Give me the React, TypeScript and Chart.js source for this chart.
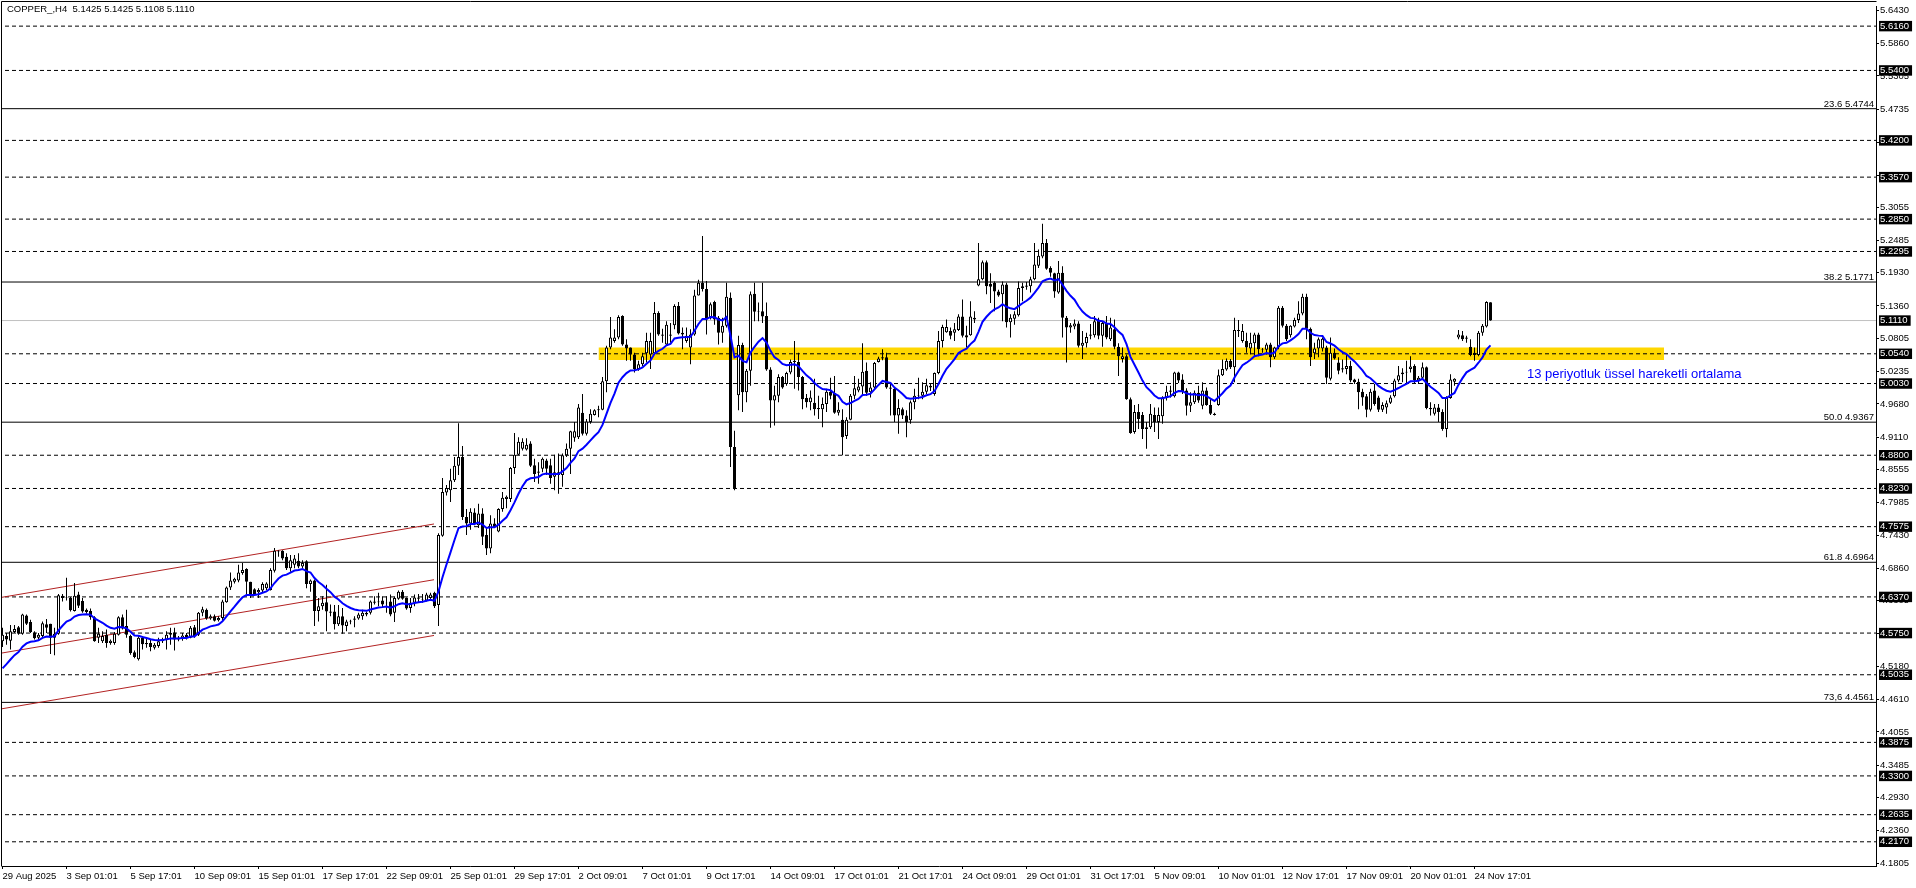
import { useEffect, useRef } from "react";
import { Chart, registerables } from "chart.js";

Chart.register(...registerables);

// ---------- DATA (COPPER_, H4) ----------
const SYMBOL = "COPPER_,H4";

const X_TICK_POS = [0, 16, 32, 48, 64, 80, 96, 112, 128, 144, 160, 176, 192, 208, 224, 240, 256, 272, 288, 304, 320, 336, 352, 368];
const X_TICK_LABELS = [
  "29 Aug 2025", "3 Sep 01:01", "5 Sep 17:01", "10 Sep 09:01", "15 Sep 01:01", "17 Sep 17:01",
  "22 Sep 09:01", "25 Sep 01:01", "29 Sep 17:01", "2 Oct 09:01", "7 Oct 01:01", "9 Oct 17:01",
  "14 Oct 09:01", "17 Oct 01:01", "21 Oct 17:01", "24 Oct 09:01", "29 Oct 01:01", "31 Oct 17:01",
  "5 Nov 09:01", "10 Nov 01:01", "12 Nov 17:01", "17 Nov 09:01", "20 Nov 01:01", "24 Nov 17:01",
];

const Y_TICKS = [
  5.643, 5.586, 5.5305, 5.4735, 5.4165, 5.36, 5.3055, 5.2485, 5.193, 5.136, 5.0805, 5.0235, 4.968,
  4.911, 4.8555, 4.7985, 4.743, 4.686, 4.6305, 4.575, 4.518, 4.461, 4.4055, 4.3485, 4.293, 4.236, 4.1805,
];

const DASHED_LEVELS = [
  5.616, 5.54, 5.42, 5.357, 5.285, 5.2295, 5.054, 5.003, 4.88, 4.823, 4.7575, 4.637, 4.575, 4.5035,
  4.3875, 4.33, 4.2635, 4.217,
];
const FIB_LEVELS = [5.4744, 5.1771, 4.9367, 4.6964, 4.4561];
const FIB_LABELS = ["23.6 5.4744", "38.2 5.1771", "50.0 4.9367", "61.8 4.6964", "73,6 4.4561"];
const LAST_PRICE = 5.111;

const BAND_X = [149, 415.4];
const BAND_TOP = 5.0647;
const BAND_BOTTOM = 5.0432;

const CHANNEL_X = [-0.625, 107.875];
const CHANNEL_TOP = [4.6358, 4.7621];
const CHANNEL_MID = [4.5402, 4.6665];
const CHANNEL_BOT = [4.4446, 4.5709];

const MA_PERIOD = 13;
const MA_SEED = 4.505;
const MA_LABEL = "13 periyotluk üssel hareketli ortalama";
const MA_LABEL_X = 381.1;
const MA_LABEL_Y = 5.0191;

const OPEN = [
  4.561, 4.570, 4.562, 4.577, 4.585, 4.574, 4.605, 4.594, 4.576, 4.567,
  4.570, 4.590, 4.591, 4.567, 4.574, 4.639, 4.636, 4.635, 4.613, 4.641,
  4.630, 4.615, 4.613, 4.602, 4.567, 4.561, 4.572, 4.558, 4.558, 4.572,
  4.602, 4.587, 4.570, 4.542, 4.530, 4.567, 4.558, 4.558, 4.550, 4.553,
  4.561, 4.564, 4.572, 4.576, 4.564, 4.566, 4.572, 4.567, 4.585, 4.572,
  4.610, 4.615, 4.600, 4.604, 4.597, 4.601, 4.628, 4.653, 4.663, 4.665,
  4.678, 4.685, 4.663, 4.650, 4.645, 4.648, 4.652, 4.649, 4.682, 4.716,
  4.716, 4.706, 4.686, 4.692, 4.699, 4.689, 4.698, 4.659, 4.665, 4.613,
  4.621, 4.628, 4.612, 4.612, 4.590, 4.604, 4.587, 4.595, 4.598, 4.600,
  4.604, 4.607, 4.610, 4.629, 4.628, 4.631, 4.626, 4.629, 4.610, 4.634,
  4.646, 4.635, 4.618, 4.627, 4.634, 4.632, 4.631, 4.635, 4.644, 4.623,
  4.742, 4.816, 4.820, 4.837, 4.862, 4.877, 4.774, 4.763, 4.782, 4.760,
  4.780, 4.743, 4.720, 4.763, 4.749, 4.788, 4.805, 4.805, 4.858, 4.881,
  4.891, 4.890, 4.900, 4.863, 4.852, 4.857, 4.871, 4.863, 4.843, 4.851,
  4.846, 4.880, 4.891, 4.910, 4.911, 4.953, 4.917, 4.937, 4.949, 4.957,
  4.958, 5.007, 5.065, 5.076, 5.082, 5.119, 5.070, 5.065, 5.053, 5.028,
  5.036, 5.055, 5.053, 5.055, 5.124, 5.087, 5.070, 5.087, 5.103, 5.136,
  5.090, 5.076, 5.065, 5.087, 5.154, 5.176, 5.165, 5.116, 5.143, 5.116,
  5.090, 5.102, 5.150, 4.894, 4.983, 5.069, 4.988, 5.025, 5.157, 5.126,
  5.127, 5.119, 5.027, 4.974, 4.982, 5.014, 5.002, 5.022, 5.042, 5.040,
  5.014, 4.978, 4.971, 4.970, 4.959, 4.959, 4.968, 4.989, 4.987, 4.953,
  4.941, 4.913, 4.941, 4.982, 4.991, 4.998, 5.025, 4.988, 4.996, 5.040,
  5.046, 5.048, 4.996, 4.994, 4.948, 4.959, 4.948, 4.940, 4.971, 4.982,
  4.982, 4.989, 4.999, 4.985, 5.021, 5.076, 5.091, 5.093, 5.090, 5.095,
  5.118, 5.086, 5.086, 5.116, 5.171, 5.182, 5.211, 5.174, 5.176, 5.161,
  5.156, 5.173, 5.108, 5.114, 5.120, 5.167, 5.169, 5.170, 5.182, 5.205,
  5.221, 5.244, 5.201, 5.192, 5.159, 5.193, 5.116, 5.099, 5.101, 5.106,
  5.068, 5.072, 5.085, 5.086, 5.113, 5.085, 5.106, 5.079, 5.096, 5.066,
  5.045, 5.050, 4.976, 4.920, 4.954, 4.949, 4.925, 4.928, 4.949, 4.937,
  4.947, 4.979, 4.989, 4.981, 5.022, 5.010, 4.991, 4.965, 4.971, 4.987,
  4.965, 4.991, 4.966, 4.951, 4.966, 5.017, 5.027, 5.042, 5.031, 5.095,
  5.076, 5.076, 5.063, 5.072, 5.087, 5.062, 5.061, 5.070, 5.048, 5.065,
  5.133, 5.102, 5.086, 5.101, 5.112, 5.123, 5.152, 5.097, 5.055, 5.063,
  5.063, 5.065, 5.011, 5.056, 5.039, 5.029, 5.028, 5.033, 5.010, 5.006,
  4.989, 4.981, 4.958, 4.991, 4.979, 4.958, 4.962, 4.970, 4.981, 5.008,
  5.019, 5.022, 5.028, 5.033, 5.008, 5.013, 5.031, 4.961, 4.951, 4.962,
  4.954, 4.925, 4.978, 5.006, 5.082, 5.086, 5.080, 5.066, 5.056, 5.052,
  5.090, 5.101, 5.1425,
];

const HIGH = [
  4.584, 4.575, 4.589, 4.589, 4.587, 4.608, 4.607, 4.598, 4.578, 4.575,
  4.595, 4.599, 4.591, 4.584, 4.642, 4.642, 4.670, 4.637, 4.661, 4.646,
  4.635, 4.617, 4.617, 4.604, 4.584, 4.578, 4.581, 4.564, 4.577, 4.604,
  4.607, 4.615, 4.572, 4.545, 4.570, 4.570, 4.567, 4.564, 4.558, 4.567,
  4.567, 4.578, 4.584, 4.584, 4.570, 4.575, 4.575, 4.587, 4.589, 4.611,
  4.620, 4.617, 4.607, 4.607, 4.604, 4.632, 4.655, 4.679, 4.670, 4.692,
  4.695, 4.686, 4.663, 4.652, 4.652, 4.662, 4.662, 4.686, 4.721, 4.717,
  4.717, 4.712, 4.709, 4.709, 4.712, 4.700, 4.700, 4.667, 4.667, 4.635,
  4.638, 4.658, 4.624, 4.623, 4.623, 4.618, 4.598, 4.598, 4.604, 4.610,
  4.615, 4.612, 4.631, 4.638, 4.644, 4.638, 4.638, 4.641, 4.638, 4.648,
  4.649, 4.636, 4.635, 4.641, 4.642, 4.642, 4.644, 4.644, 4.646, 4.746,
  4.841, 4.829, 4.857, 4.877, 4.935, 4.896, 4.788, 4.789, 4.789, 4.797,
  4.789, 4.755, 4.777, 4.772, 4.789, 4.817, 4.811, 4.860, 4.918, 4.911,
  4.909, 4.909, 4.904, 4.874, 4.868, 4.876, 4.874, 4.874, 4.881, 4.883,
  4.883, 4.900, 4.922, 4.937, 4.968, 4.985, 4.942, 4.959, 4.959, 4.965,
  5.014, 5.068, 5.117, 5.096, 5.120, 5.120, 5.079, 5.065, 5.056, 5.042,
  5.056, 5.090, 5.090, 5.143, 5.127, 5.097, 5.110, 5.107, 5.139, 5.143,
  5.099, 5.099, 5.096, 5.164, 5.181, 5.256, 5.179, 5.142, 5.145, 5.119,
  5.116, 5.176, 5.159, 4.922, 5.085, 5.073, 5.028, 5.161, 5.176, 5.142,
  5.176, 5.142, 5.031, 4.999, 5.019, 5.016, 5.023, 5.044, 5.076, 5.056,
  5.016, 4.985, 4.991, 5.011, 4.982, 4.979, 4.994, 5.013, 5.016, 4.971,
  4.959, 4.945, 4.985, 5.016, 5.011, 5.072, 5.039, 5.005, 5.040, 5.049,
  5.062, 5.056, 5.002, 4.996, 4.976, 4.962, 4.957, 4.974, 4.994, 5.013,
  5.005, 5.011, 5.002, 5.022, 5.093, 5.104, 5.113, 5.099, 5.107, 5.122,
  5.147, 5.102, 5.144, 5.127, 5.244, 5.214, 5.214, 5.192, 5.178, 5.164,
  5.178, 5.176, 5.122, 5.127, 5.178, 5.176, 5.177, 5.186, 5.244, 5.233,
  5.277, 5.251, 5.204, 5.193, 5.213, 5.204, 5.119, 5.107, 5.113, 5.110,
  5.093, 5.090, 5.105, 5.119, 5.116, 5.109, 5.119, 5.116, 5.113, 5.072,
  5.065, 5.053, 4.979, 4.966, 4.968, 4.954, 4.937, 4.968, 4.962, 4.962,
  4.981, 4.999, 4.999, 5.023, 5.023, 5.019, 4.995, 4.988, 4.991, 4.999,
  5.005, 4.996, 4.976, 4.953, 5.027, 5.044, 5.046, 5.045, 5.116, 5.112,
  5.105, 5.090, 5.090, 5.090, 5.090, 5.064, 5.073, 5.073, 5.066, 5.136,
  5.136, 5.105, 5.103, 5.116, 5.144, 5.157, 5.157, 5.099, 5.073, 5.082,
  5.082, 5.068, 5.082, 5.063, 5.048, 5.044, 5.053, 5.042, 5.011, 5.011,
  4.994, 4.985, 4.994, 5.002, 4.982, 4.971, 4.974, 4.983, 5.011, 5.033,
  5.029, 5.042, 5.050, 5.036, 5.016, 5.039, 5.032, 4.971, 4.968, 4.968,
  4.959, 4.981, 5.019, 5.012, 5.095, 5.093, 5.085, 5.079, 5.065, 5.093,
  5.105, 5.144, 5.1425,
];

const LOW = [
  4.551, 4.555, 4.547, 4.575, 4.572, 4.572, 4.589, 4.575, 4.564, 4.564,
  4.567, 4.575, 4.539, 4.537, 4.572, 4.629, 4.631, 4.612, 4.612, 4.618,
  4.610, 4.608, 4.598, 4.560, 4.558, 4.558, 4.550, 4.555, 4.555, 4.571,
  4.581, 4.567, 4.538, 4.532, 4.528, 4.547, 4.550, 4.544, 4.547, 4.550,
  4.558, 4.547, 4.555, 4.545, 4.561, 4.562, 4.564, 4.566, 4.567, 4.570,
  4.604, 4.598, 4.598, 4.595, 4.595, 4.595, 4.627, 4.649, 4.660, 4.662,
  4.675, 4.638, 4.635, 4.640, 4.635, 4.645, 4.649, 4.648, 4.679, 4.706,
  4.700, 4.683, 4.680, 4.686, 4.686, 4.686, 4.652, 4.646, 4.587, 4.595,
  4.615, 4.578, 4.604, 4.581, 4.587, 4.574, 4.578, 4.590, 4.585, 4.598,
  4.598, 4.604, 4.607, 4.624, 4.621, 4.618, 4.610, 4.604, 4.594, 4.632,
  4.632, 4.615, 4.610, 4.621, 4.627, 4.627, 4.629, 4.632, 4.618, 4.587,
  4.740, 4.811, 4.800, 4.834, 4.846, 4.769, 4.743, 4.752, 4.760, 4.755,
  4.726, 4.709, 4.712, 4.755, 4.748, 4.783, 4.789, 4.800, 4.848, 4.880,
  4.888, 4.888, 4.860, 4.834, 4.831, 4.851, 4.846, 4.831, 4.820, 4.814,
  4.826, 4.877, 4.848, 4.903, 4.908, 4.914, 4.914, 4.934, 4.948, 4.945,
  4.957, 4.988, 5.062, 5.073, 5.079, 5.068, 5.042, 5.042, 5.022, 5.025,
  5.033, 5.039, 5.028, 5.053, 5.085, 5.073, 5.068, 5.073, 5.096, 5.087,
  5.062, 5.073, 5.036, 5.085, 5.154, 5.161, 5.087, 5.113, 5.104, 5.070,
  5.073, 5.099, 4.860, 4.820, 4.957, 4.954, 4.971, 4.999, 5.110, 5.110,
  5.107, 5.025, 4.927, 4.931, 4.971, 4.994, 4.999, 5.019, 4.994, 4.991,
  4.959, 4.962, 4.957, 4.948, 4.942, 4.928, 4.954, 4.976, 4.951, 4.948,
  4.880, 4.908, 4.940, 4.976, 4.988, 4.982, 4.982, 4.979, 4.994, 5.039,
  5.043, 4.994, 4.948, 4.937, 4.917, 4.942, 4.911, 4.934, 4.959, 4.976,
  4.976, 4.985, 4.990, 4.982, 5.019, 5.065, 5.090, 5.079, 5.076, 5.093,
  5.082, 5.065, 5.085, 5.107, 5.170, 5.180, 5.156, 5.141, 5.127, 5.152,
  5.110, 5.099, 5.082, 5.104, 5.118, 5.144, 5.164, 5.159, 5.180, 5.201,
  5.218, 5.198, 5.186, 5.150, 5.157, 5.082, 5.039, 5.090, 5.096, 5.065,
  5.045, 5.065, 5.079, 5.082, 5.079, 5.066, 5.079, 5.076, 5.062, 5.016,
  5.039, 4.975, 4.917, 4.917, 4.925, 4.908, 4.891, 4.925, 4.920, 4.908,
  4.934, 4.974, 4.979, 4.979, 5.004, 4.985, 4.948, 4.954, 4.968, 4.970,
  4.959, 4.965, 4.949, 4.948, 4.965, 5.016, 5.025, 5.028, 5.005, 5.083,
  5.073, 5.056, 5.053, 5.050, 5.050, 5.056, 5.053, 5.031, 5.045, 5.062,
  5.099, 5.076, 5.082, 5.099, 5.107, 5.120, 5.079, 5.033, 5.045, 5.048,
  5.058, 5.002, 5.008, 5.044, 5.019, 5.022, 5.019, 5.005, 5.002, 4.959,
  4.965, 4.945, 4.955, 4.965, 4.954, 4.954, 4.951, 4.968, 4.979, 5.005,
  5.005, 5.002, 5.022, 5.002, 5.002, 5.010, 4.959, 4.948, 4.948, 4.937,
  4.922, 4.911, 4.977, 4.999, 5.079, 5.076, 5.073, 5.050, 5.042, 5.050,
  5.085, 5.099, 5.1108,
];

const CLOSE = [
  4.572, 4.564, 4.578, 4.582, 4.574, 4.607, 4.591, 4.577, 4.566, 4.572,
  4.592, 4.584, 4.567, 4.574, 4.640, 4.635, 4.637, 4.614, 4.639, 4.622,
  4.612, 4.611, 4.602, 4.561, 4.574, 4.570, 4.558, 4.562, 4.574, 4.602,
  4.583, 4.572, 4.541, 4.534, 4.567, 4.556, 4.556, 4.551, 4.555, 4.561,
  4.564, 4.572, 4.575, 4.564, 4.567, 4.571, 4.566, 4.584, 4.570, 4.610,
  4.616, 4.600, 4.604, 4.596, 4.601, 4.629, 4.653, 4.665, 4.668, 4.679,
  4.683, 4.663, 4.640, 4.642, 4.649, 4.659, 4.660, 4.683, 4.716, 4.715,
  4.703, 4.686, 4.700, 4.703, 4.689, 4.695, 4.659, 4.665, 4.613, 4.621,
  4.627, 4.612, 4.610, 4.590, 4.604, 4.588, 4.595, 4.596, 4.600, 4.607,
  4.610, 4.610, 4.629, 4.627, 4.629, 4.624, 4.627, 4.607, 4.635, 4.646,
  4.634, 4.617, 4.627, 4.636, 4.636, 4.633, 4.641, 4.641, 4.621, 4.743,
  4.817, 4.824, 4.837, 4.862, 4.877, 4.774, 4.763, 4.783, 4.763, 4.780,
  4.740, 4.720, 4.763, 4.757, 4.788, 4.807, 4.809, 4.858, 4.881, 4.903,
  4.903, 4.898, 4.862, 4.848, 4.850, 4.874, 4.857, 4.841, 4.851, 4.846,
  4.880, 4.891, 4.921, 4.921, 4.962, 4.917, 4.938, 4.951, 4.957, 4.959,
  5.007, 5.065, 5.082, 5.082, 5.117, 5.070, 5.063, 5.053, 5.028, 5.036,
  5.050, 5.076, 5.076, 5.124, 5.087, 5.085, 5.104, 5.085, 5.136, 5.089,
  5.087, 5.085, 5.087, 5.154, 5.176, 5.165, 5.113, 5.139, 5.113, 5.090,
  5.102, 5.152, 4.894, 4.823, 5.069, 4.988, 5.025, 5.156, 5.126, 5.127,
  5.118, 5.027, 4.974, 4.983, 5.014, 4.996, 5.021, 5.040, 5.040, 5.014,
  4.976, 4.971, 4.979, 4.959, 4.961, 4.968, 4.989, 4.982, 4.953, 4.958,
  4.911, 4.941, 4.982, 4.995, 4.998, 5.023, 4.987, 4.996, 5.038, 5.046,
  5.048, 4.996, 4.994, 4.948, 4.961, 4.948, 4.937, 4.971, 4.982, 4.983,
  4.989, 5.000, 4.996, 5.021, 5.076, 5.100, 5.100, 5.085, 5.096, 5.118,
  5.085, 5.082, 5.118, 5.113, 5.182, 5.211, 5.170, 5.169, 5.161, 5.154,
  5.173, 5.108, 5.116, 5.122, 5.167, 5.170, 5.171, 5.182, 5.207, 5.222,
  5.244, 5.200, 5.193, 5.161, 5.193, 5.116, 5.099, 5.103, 5.106, 5.068,
  5.073, 5.083, 5.087, 5.110, 5.085, 5.107, 5.082, 5.099, 5.066, 5.050,
  5.050, 4.976, 4.918, 4.954, 4.942, 4.925, 4.928, 4.951, 4.937, 4.949,
  4.979, 4.989, 4.991, 5.022, 5.008, 4.989, 4.965, 4.971, 4.987, 4.974,
  4.991, 4.966, 4.951, 4.949, 5.017, 5.028, 5.042, 5.031, 5.095, 5.093,
  5.093, 5.065, 5.073, 5.087, 5.062, 5.061, 5.070, 5.048, 5.065, 5.133,
  5.102, 5.079, 5.102, 5.112, 5.123, 5.152, 5.097, 5.048, 5.063, 5.079,
  5.080, 5.013, 5.056, 5.046, 5.025, 5.027, 5.033, 5.008, 5.005, 4.988,
  4.979, 4.958, 4.989, 4.968, 4.958, 4.966, 4.969, 4.979, 5.008, 5.017,
  5.022, 5.023, 5.032, 5.008, 5.013, 5.031, 4.961, 4.959, 4.962, 4.954,
  4.925, 4.979, 5.010, 5.011, 5.087, 5.079, 5.082, 5.052, 5.052, 5.090,
  5.102, 5.143, 5.1110,
];

// ---------- LAYOUT / STYLE ----------
const W = 1916;
const H = 888;
const X_MIN = -0.125;
const X_MAX = 468.375;
const Y_MIN = 4.17548;
const Y_MAX = 5.65014;
const FONT = '"Liberation Sans", Arial, sans-serif';
const BOXED = [...DASHED_LEVELS, LAST_PRICE];
const isBoxed = (v: number) => BOXED.some((b) => Math.abs(b - v) < 1e-9) && !Y_TICKS.some((t, k) => false && t === v);

export default function App() {
  const ref = useRef<HTMLCanvasElement | null>(null);

  useEffect(() => {
    document.body.style.margin = "0";
    const canvas = ref.current;
    if (!canvas) return;

    const idx = CLOSE.map((_, i) => i);
    const wickData = idx.map((i) => ({ x: i, y: [LOW[i], HIGH[i]] }));
    const bodyData = idx.map((i) => ({ x: i, y: [OPEN[i], CLOSE[i]] }));
    const bodyFill = idx.map((i) => (CLOSE[i] >= OPEN[i] ? "#ffffff" : "#000000"));

    const k = 2 / (MA_PERIOD + 1);
    let prev = MA_SEED;
    const maData = idx.map((i) => {
      prev = prev + k * (CLOSE[i] - prev);
      return { x: i, y: prev };
    });

    const hline = (v: number, color: string, dash: number[], order: number) => ({
      type: "line",
      data: [
        { x: X_MIN - 1, y: v },
        { x: X_MAX + 1, y: v },
      ],
      borderColor: color,
      borderWidth: 1,
      borderDash: dash,
      pointRadius: 0,
      fill: false,
      order,
    });
    const seg = (ys: number[], color: string, order: number) => ({
      type: "line",
      data: CHANNEL_X.map((x, j) => ({ x, y: ys[j] })),
      borderColor: color,
      borderWidth: 1,
      pointRadius: 0,
      fill: false,
      order,
    });

    const datasets: any[] = [
      {
        type: "line",
        data: BAND_X.map((x) => ({ x, y: BAND_TOP })),
        borderWidth: 0,
        borderColor: "rgba(0,0,0,0)",
        pointRadius: 0,
        fill: { value: BAND_BOTTOM },
        backgroundColor: "#ffd700",
        order: 30,
      },
      ...DASHED_LEVELS.map((v) => hline(v, "#000000", [4, 3], 10)),
      ...FIB_LEVELS.map((v) => hline(v, "#000000", [], 10)),
      hline(LAST_PRICE, "#c0c0c0", [], 11),
      seg(CHANNEL_TOP, "#b22222", 5),
      seg(CHANNEL_MID, "#b22222", 5),
      seg(CHANNEL_BOT, "#b22222", 5),
      {
        type: "bar",
        data: wickData,
        backgroundColor: "#000000",
        borderWidth: 0,
        barThickness: 1,
        grouped: false,
        inflateAmount: 0,
        order: 3,
      },
      {
        type: "bar",
        data: bodyData,
        backgroundColor: bodyFill,
        borderColor: "#000000",
        borderWidth: 1,
        borderSkipped: false,
        barThickness: 3,
        grouped: false,
        inflateAmount: 0,
        order: 2,
      },
      {
        type: "line",
        data: maData,
        borderColor: "#0000ff",
        borderWidth: 2,
        pointRadius: 0,
        tension: 0,
        fill: false,
        order: 0,
      },
    ];

    const decor = {
      id: "decor",
      beforeDraw(chart: any) {
        const c = chart.ctx;
        c.save();
        c.fillStyle = "#ffffff";
        c.fillRect(0, 0, chart.width, chart.height);
        c.restore();
      },
      afterDatasetsDraw(chart: any) {
        const { ctx, chartArea: a, scales } = chart;
        const ys = scales.y;
        const xs = scales.x;
        ctx.save();
        ctx.font = `9.5px ${FONT}`;
        ctx.fillStyle = "#000000";
        ctx.textAlign = "right";
        ctx.textBaseline = "alphabetic";
        FIB_LEVELS.forEach((v, j) => {
          ctx.fillText(FIB_LABELS[j], a.right - 2, Math.round(ys.getPixelForValue(v)) - 2);
        });
        ctx.font = `13px ${FONT}`;
        ctx.fillStyle = "#0000ff";
        ctx.textAlign = "left";
        ctx.textBaseline = "middle";
        ctx.fillText(MA_LABEL, xs.getPixelForValue(MA_LABEL_X), ys.getPixelForValue(MA_LABEL_Y));
        ctx.restore();
      },
      afterDraw(chart: any) {
        const { ctx, chartArea: a } = chart;
        ctx.save();
        ctx.strokeStyle = "#000000";
        ctx.lineWidth = 1;
        ctx.beginPath();
        ctx.moveTo(1.5, a.bottom + 0.5);
        ctx.lineTo(1.5, 1.5);
        ctx.lineTo(a.right + 0.5, 1.5);
        ctx.stroke();
        const last = CLOSE.length - 1;
        const header = `${SYMBOL}  ${OPEN[last].toFixed(4)} ${HIGH[last].toFixed(4)} ${LOW[last].toFixed(4)} ${CLOSE[last].toFixed(4)}`;
        ctx.font = `9.5px ${FONT}`;
        ctx.fillStyle = "#000000";
        ctx.textAlign = "left";
        ctx.textBaseline = "alphabetic";
        ctx.fillText(header, 7, 12);
        ctx.restore();
      },
    };

    const chart = new Chart(canvas, {
      type: "bar",
      data: { datasets },
      options: {
        animation: false,
        responsive: false,
        devicePixelRatio: 1,
        events: [],
        layout: { padding: { left: 2, top: 2, right: 0, bottom: 0 } },
        plugins: { legend: { display: false }, tooltip: { enabled: false } },
        scales: {
          x: {
            type: "linear",
            min: X_MIN,
            max: X_MAX,
            offset: false,
            bounds: "data",
            afterFit: (s: any) => {
              s.height = 22;
            },
            afterBuildTicks: (s: any) => {
              s.ticks = X_TICK_POS.map((v) => ({ value: v }));
            },
            border: { display: true, color: "#000000", width: 1 },
            grid: { drawOnChartArea: false, drawTicks: true, tickLength: 3, tickColor: "#000000", offset: false },
            ticks: {
              autoSkip: false,
              maxRotation: 0,
              minRotation: 0,
              align: "start",
              padding: 2,
              color: "#000000",
              font: { family: FONT, size: 9.5, lineHeight: 1.1 },
              callback: (v: any) => {
                const j = X_TICK_POS.indexOf(Number(v));
                return j >= 0 ? X_TICK_LABELS[j] : "";
              },
            },
          },
          y: {
            type: "linear",
            position: "right",
            min: Y_MIN,
            max: Y_MAX,
            bounds: "data",
            afterFit: (s: any) => {
              s.width = 40;
            },
            afterBuildTicks: (s: any) => {
              s.ticks = [...Y_TICKS.map((v) => ({ value: v, boxed: false })), ...BOXED.map((v) => ({ value: v, boxed: true }))];
            },
            border: { display: true, color: "#000000", width: 1 },
            grid: {
              drawOnChartArea: false,
              drawTicks: true,
              tickLength: 3,
              tickColor: (ctx: any) => (ctx.tick && ctx.tick.boxed ? "rgba(0,0,0,0)" : "#000000"),
            },
            ticks: {
              autoSkip: false,
              padding: 1,
              font: { family: FONT, size: 9.5, lineHeight: 1.1 },
              color: (ctx: any) => (ctx.tick && ctx.tick.boxed ? "#ffffff" : "#000000"),
              showLabelBackdrop: (ctx: any) => !!(ctx.tick && ctx.tick.boxed),
              backdropColor: "#000000",
              backdropPadding: { left: 1, right: 3, top: 0, bottom: 0 },
              callback: (v: any) => Number(v).toFixed(4),
            },
          },
        },
      } as any,
      plugins: [decor],
    } as any);

    return () => chart.destroy();
  }, []);

  return (
    <canvas
      ref={ref}
      width={W}
      height={H}
      style={{ display: "block", width: W + "px", height: H + "px" }}
    />
  );
}
